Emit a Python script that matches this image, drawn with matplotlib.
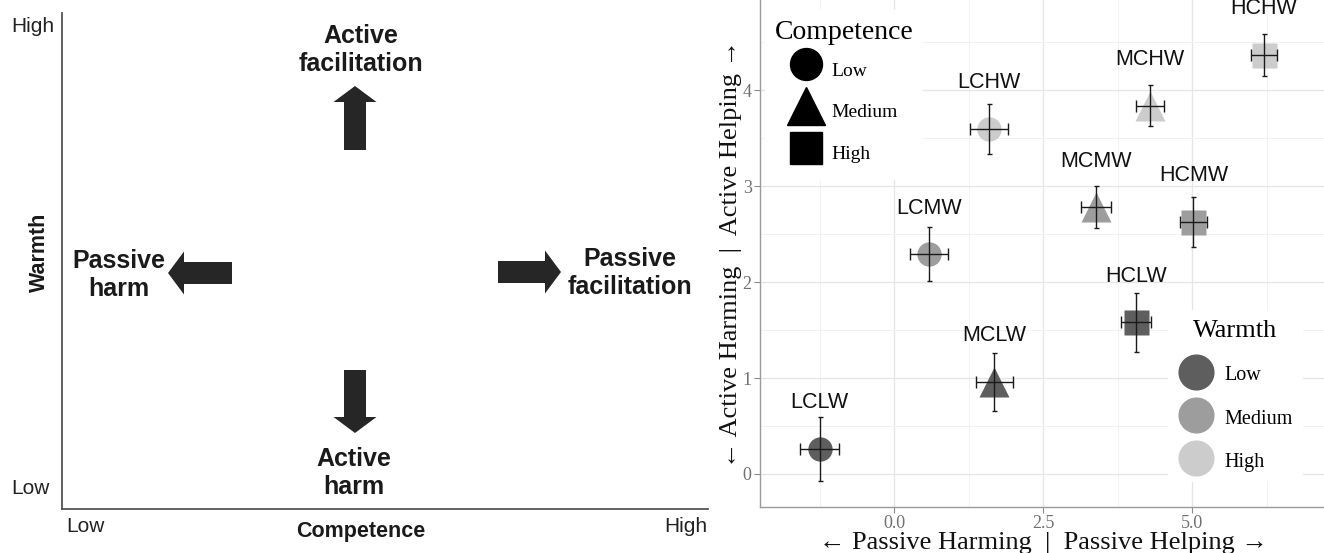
import matplotlib
matplotlib.use("Agg")
import matplotlib.pyplot as plt
from matplotlib.patches import FancyArrow
from matplotlib.lines import Line2D

# --- data: right panel ---
labels = ["LCLW", "LCMW", "LCHW", "MCLW", "MCMW", "MCHW", "HCLW", "HCMW", "HCHW"]
competence = ["Low", "Low", "Low", "Medium", "Medium", "Medium", "High", "High", "High"]
warmth = ["Low", "Medium", "High", "Low", "Medium", "High", "Low", "Medium", "High"]
passive = [-1.25, 0.58, 1.59, 1.68, 3.38, 4.29, 4.05, 5.02, 6.20]
active = [0.26, 2.29, 3.60, 0.96, 2.78, 3.84, 1.58, 2.63, 4.37]
passive_err = [0.33, 0.32, 0.32, 0.31, 0.25, 0.23, 0.25, 0.23, 0.22]
active_err = [0.33, 0.28, 0.26, 0.30, 0.22, 0.21, 0.31, 0.26, 0.22]

levels = ["Low", "Medium", "High"]
shapes = {"Low": "o", "Medium": "^", "High": "s"}
shape_size = {"Low": 17.5, "Medium": 21.5, "High": 18}
greys = {"Low": "#5e5e5e", "Medium": "#9d9d9d", "High": "#cccccc"}

# --- left panel: concept diagram ---
concept_labels = ["Active\nfacilitation", "Passive\nharm", "Passive\nfacilitation", "Active\nharm"]

W, H = 1324, 553
SANS = ["Liberation Sans", "DejaVu Sans"]
SERIF = ["Liberation Serif", "DejaVu Serif"]

fig = plt.figure(figsize=(W / 100, H / 100), dpi=100)


def fx(x):
    return x / W


def fy(y):
    return 1 - y / H


# Left axes, sized in pixels so arrows keep their shape
ax1 = fig.add_axes([fx(62), fy(509), (708 - 62) / W, (509 - 13) / H])
ax1.set_xlim(62, 708)
ax1.set_ylim(509, 13)
for s in ["top", "right"]:
    ax1.spines[s].set_visible(False)
for s in ["left", "bottom"]:
    ax1.spines[s].set_color("#555555")
    ax1.spines[s].set_linewidth(1.3)
ax1.set_xticks([])
ax1.set_yticks([])

arrow_kw = dict(width=22, head_width=43, head_length=16,
                length_includes_head=True, color="#262626", lw=0)
# (tail x, tail y, dx, dy)
for x0, y0, dx, dy in [(355, 150, 0, -64), (355, 370, 0, 63),
                       (232, 273, -64, 0), (498, 272, 63, 0)]:
    ax1.add_patch(FancyArrow(x0, y0, dx, dy, **arrow_kw))

text_kw = dict(family=SANS, fontsize=18, fontweight="bold", color="#1a1a1a",
               ha="center", va="center", linespacing=1.25)
for lab, (x, y) in zip(concept_labels, [(361, 50), (119, 275), (630, 273), (354, 473)]):
    ax1.text(x, y, lab, **text_kw)

plain = dict(family=SANS, fontsize=15, color="#222222", va="center")
fig.text(fx(33), fy(26), "High", ha="center", **plain)
fig.text(fx(30), fy(489), "Low", ha="center", **plain)
fig.text(fx(85), fy(527), "Low", ha="center", **plain)
fig.text(fx(707), fy(527), "High", ha="right", **plain)
fig.text(fx(361), fy(531), "Competence", ha="center", va="center",
         family=SANS, fontsize=15.5, fontweight="bold", color="#1a1a1a")
fig.text(fx(39), fy(252), "Warmth", ha="center", va="center", rotation=90,
         family=SANS, fontsize=15.5, fontweight="bold", color="#1a1a1a")

# Right axes
ax2 = fig.add_axes([fx(760), fy(507), (W - 760) / W, 507 / H])
ax2.set_xlim(-2.25, 7.21)
ax2.set_ylim(-0.344, 4.94)
for s in ["top", "right"]:
    ax2.spines[s].set_visible(False)
for s in ["left", "bottom"]:
    ax2.spines[s].set_color("#9a9a9a")
    ax2.spines[s].set_linewidth(1.0)

ax2.set_xticks([0, 2.5, 5.0])
ax2.set_xticklabels(["0.0", "2.5", "5.0"])
ax2.set_yticks([0, 1, 2, 3, 4])
ax2.set_xticks([-1.25, 1.25, 3.75, 6.25], minor=True)
ax2.set_yticks([0.5, 1.5, 2.5, 3.5, 4.5], minor=True)
ax2.tick_params(which="major", length=4, color="#8a8a8a", labelcolor="#707070",
                labelsize=13, pad=2)
ax2.tick_params(which="minor", length=0)
for t in ax2.get_xticklabels() + ax2.get_yticklabels():
    t.set_family(SERIF)
ax2.grid(which="major", color="#e6e6e6", lw=1.0)
ax2.grid(which="minor", color="#f2f2f2", lw=0.7)
ax2.set_axisbelow(True)

for i, lab in enumerate(labels):
    c, w = competence[i], warmth[i]
    ax2.plot(passive[i], active[i], marker=shapes[c], ms=shape_size[c],
             color=greys[w], mec="none", ls="none", zorder=3)
    ax2.errorbar(passive[i], active[i], xerr=passive_err[i], fmt="none",
                 ecolor="#1a1a1a", elinewidth=1.0, capsize=4, capthick=1.0, zorder=4)
    ax2.errorbar(passive[i], active[i], yerr=active_err[i], fmt="none",
                 ecolor="#1a1a1a", elinewidth=1.0, capsize=1.8, capthick=1.0, zorder=4)
    ax2.text(passive[i], active[i] + 0.48, lab, ha="center", va="center",
             family=SANS, fontsize=15.5, color="#111111", zorder=5)

fig.text(fx(731), fy(254), "\u2190 Active Harming  |  Active Helping \u2192",
         rotation=90, ha="center", va="center", family=SERIF, fontsize=19,
         color="#111111")
fig.text(fx(1043), fy(543), "\u2190 Passive Harming  |  Passive Helping \u2192",
         ha="center", va="center", family=SERIF, fontsize=19, color="#111111")

# Legends
comp_handles = [Line2D([], [], marker=shapes[l], ls="none", color="black",
                       ms={"Low": 23, "Medium": 28, "High": 23}[l]) for l in levels]
leg1 = ax2.legend(comp_handles, levels, title="Competence", loc="upper left",
                  bbox_to_anchor=(fx(765), fy(10)), bbox_transform=fig.transFigure,
                  borderaxespad=0, frameon=True, framealpha=1, edgecolor="none",
                  facecolor="white", fancybox=False, handlelength=1.6,
                  handleheight=2.32, handletextpad=0.55, labelspacing=0.4,
                  borderpad=0.5, prop={"family": SERIF, "size": 14},
                  title_fontproperties={"family": SERIF, "size": 20})
ax2.add_artist(leg1)

warm_handles = [Line2D([], [], marker="o", ls="none", color=greys[l], ms=25)
                for l in levels]
leg2 = ax2.legend(warm_handles, levels, title="Warmth", loc="upper left",
                  bbox_to_anchor=(fx(1168), fy(310)), bbox_transform=fig.transFigure,
                  borderaxespad=0, frameon=True, framealpha=1, edgecolor="none",
                  facecolor="white", fancybox=False, handlelength=1.8,
                  handleheight=1.2, handletextpad=0.5, labelspacing=1.05,
                  borderpad=0.5, prop={"family": SERIF, "size": 14.5},
                  title_fontproperties={"family": SERIF, "size": 19})

fig.savefig("out.png", dpi=100)
